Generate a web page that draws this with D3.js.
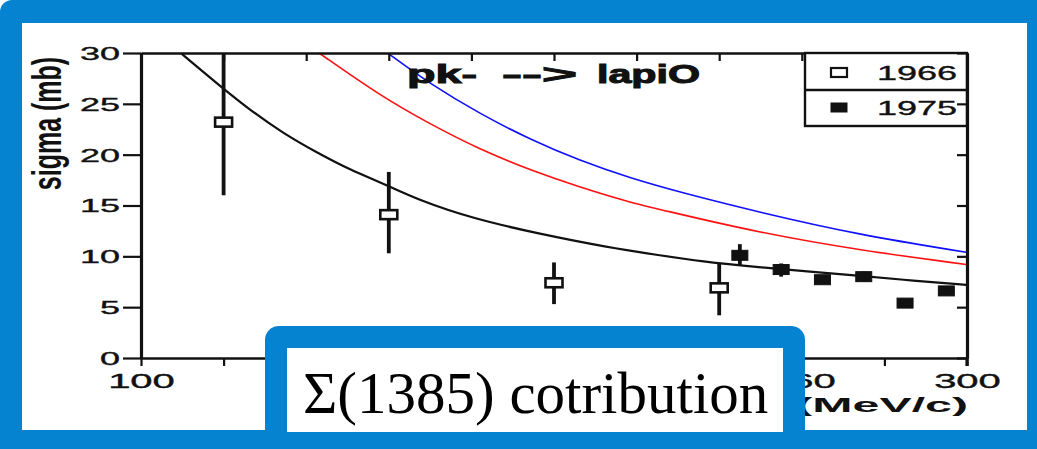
<!DOCTYPE html>
<html>
<head>
<meta charset="utf-8">
<script src="https://cdn.jsdelivr.net/npm/d3@7"></script>
<style>
  html, body { margin: 0; padding: 0; background: #ffffff; }
  svg { display: block; }
</style>
</head>
<body>
<svg id="chart" width="1037" height="449"></svg>
<script>
// ---- data -------------------------------------------------------------
// Kaon lab momentum (MeV/c) and cross section (mb)
const p1966     = [120, 160, 200, 240];
const sigma1966 = [23.2, 14.1, 7.4, 6.9];
const lo1966    = [16.0, 10.3, 5.3, 4.2];
const hi1966    = [30.0, 18.3, 9.4, 9.3];

const p1975     = [245, 255, 265, 275, 285, 295];
const sigma1975 = [10.1, 8.7, 7.7, 8.0, 5.4, 6.6];
const lo1975    = [9.1, 8.0, 7.4, 7.5, 5.2, 6.3];
const hi1975    = [11.2, 9.3, 8.0, 8.5, 5.6, 6.9];

// model curves: momentum / sigma samples
const curveBlackP = [105, 110.2, 119.9, 126.4, 134.4, 142.6, 150.6, 159.6, 166.8, 180.4, 196.6, 212.8, 225.7, 235.4, 250, 262, 274, 287, 299.8];
const curveBlackS = [31.6, 29.8, 26.5, 24.4, 22.1, 20.2, 18.5, 17.0, 15.6, 13.7, 12.2, 10.9, 10.1, 9.5, 8.9, 8.5, 8.1, 7.6, 7.2];
const curveRedP   = [138.5, 143.8, 157.9, 170.0, 182.1, 194.2, 206.3, 217.7, 225.7, 250, 274, 299.8];
const curveRedS   = [31.3, 29.8, 25.8, 23.0, 20.5, 18.5, 16.8, 15.4, 14.6, 12.3, 10.6, 9.2];
const curveBlueP  = [155, 160.3, 169.9, 182.1, 194.2, 206.3, 218.4, 230.5, 250, 274, 299.8];
const curveBlueS  = [31.5, 29.8, 27.0, 24.0, 21.5, 19.4, 17.7, 16.3, 14.3, 12.1, 10.4];

// axes
const xTickValues = [100, 120, 140, 160, 180, 200, 220, 240, 260, 280, 300];
const xTickLabels = [100, 260, 300];
const yTickValues = [0, 5, 10, 15, 20, 25, 30];

const legendLabels = ["1966", "1975"];
const titleWords = ["pk-", "-->", "lapiO"];
const xAxisTitle = "(MeV/c)";
const yAxisTitle = "sigma (mb)";
const noteText   = "Σ(1385) cotribution";

// ---- layout -----------------------------------------------------------
const FRAME = "#0583d0";
const plot = { left: 141, right: 967, top: 53, bottom: 358 };
const SX = 2.0;              // horizontal stretch of the scanned lettering
const sans = "'Liberation Sans', Arial, Helvetica, sans-serif";
const INK = "#111";

const svg = d3.select("#chart");

// slide frame
svg.append("rect").attr("x", 0).attr("y", 0).attr("width", 1060).attr("height", 480)
  .attr("rx", 12).attr("fill", FRAME);
svg.append("rect").attr("x", 22).attr("y", 23).attr("width", 1005).attr("height", 407)
  .attr("fill", "#ffffff");

const x = d3.scaleLinear().domain([100, 300]).range([plot.left, plot.right]);
const y = d3.scaleLinear().domain([0, 30]).range([plot.bottom, plot.top]);

svg.append("clipPath").attr("id", "plotClip")
  .append("rect").attr("x", plot.left).attr("y", plot.top)
  .attr("width", plot.right - plot.left).attr("height", plot.bottom - plot.top);

// ---- curves -----------------------------------------------------------
const line = d3.line().x(d => x(d[0])).y(d => y(d[1])).curve(d3.curveBasis);
const curves = [
  { p: curveBlackP, s: curveBlackS, color: INK,       w: 2.2 },
  { p: curveRedP,   s: curveRedS,   color: "#ff1010", w: 1.6 },
  { p: curveBlueP,  s: curveBlueS,  color: "#1010ff", w: 1.6 }
];
const gCurves = svg.append("g").attr("clip-path", "url(#plotClip)");
curves.forEach(c => {
  gCurves.append("path")
    .datum(c.p.map((p, i) => [p, c.s[i]]))
    .attr("d", line)
    .attr("fill", "none")
    .attr("stroke", c.color)
    .attr("stroke-width", c.w);
});

// ---- axes -------------------------------------------------------------
function styleAxis(g, w) {
  g.select(".domain").attr("stroke", INK).attr("stroke-width", w);
  g.selectAll(".tick line").attr("stroke", INK).attr("stroke-width", 2.2);
}

const gLeft = svg.append("g").attr("transform", `translate(${plot.left},0)`)
  .call(d3.axisLeft(y).tickValues(yTickValues).tickSize(18).tickSizeOuter(0));
styleAxis(gLeft, 3.2);
gLeft.selectAll(".tick text")
  .attr("x", 0).attr("dy", "0.36em")
  .attr("transform", `translate(-21,0) scale(${SX},1)`)
  .attr("text-anchor", "end")
  .style("font", `18px ${sans}`).attr("fill", INK)
  .attr("stroke", INK).attr("stroke-width", 0.35);

const gBottom = svg.append("g").attr("transform", `translate(0,${plot.bottom})`)
  .call(d3.axisBottom(x).tickValues(xTickValues).tickSize(8).tickSizeOuter(0)
    .tickFormat(d => xTickLabels.includes(d) ? d : ""));
styleAxis(gBottom, 2.6);
gBottom.selectAll(".tick text")
  .attr("y", 0).attr("dy", 0)
  .attr("transform", `translate(0,30) scale(${SX},1)`)
  .attr("text-anchor", "middle")
  .style("font", `20px ${sans}`).attr("fill", INK)
  .attr("stroke", INK).attr("stroke-width", 0.35);

const gTop = svg.append("g").attr("transform", `translate(0,${plot.top})`)
  .call(d3.axisTop(x).tickValues(xTickValues).tickSize(-8).tickSizeOuter(0).tickFormat(""));
styleAxis(gTop, 2.6);

const gRight = svg.append("g").attr("transform", `translate(${plot.right},0)`)
  .call(d3.axisRight(y).tickValues(yTickValues).tickSize(-10).tickSizeOuter(0).tickFormat(""));
styleAxis(gRight, 3.2);
gRight.append("line").attr("x1", 0).attr("x2", 0)
  .attr("y1", y(0)).attr("y2", y(0) + 8)
  .attr("stroke", INK).attr("stroke-width", 3.2);

// axis titles
svg.append("text")
  .attr("transform", `translate(${plot.right + 1},412) scale(2.3,1)`)
  .attr("text-anchor", "end")
  .style("font", `bold 21px ${sans}`).attr("fill", INK)
  .text(xAxisTitle);

svg.append("text")
  .attr("transform", `translate(61,123.5) scale(1.6,1) rotate(-90)`)
  .attr("text-anchor", "middle")
  .style("font", `bold 25px ${sans}`).attr("fill", INK)
  .text(yAxisTitle);

// reaction title, one word at a time
const titleX = [407, 502, 597];
const titleW = [70, 75, 103];
titleWords.forEach((w, i) => {
  svg.append("text")
    .attr("x", titleX[i]).attr("y", 83)
    .attr("textLength", titleW[i]).attr("lengthAdjust", "spacingAndGlyphs")
    .style("font", `bold 26px ${sans}`).attr("fill", INK)
    .attr("stroke", INK).attr("stroke-width", 1)
    .text(w);
});

// ---- data points ------------------------------------------------------
const gPts = svg.append("g").attr("clip-path", "url(#plotClip)");

function drawSeries(ps, ss, lo, hi, filled, w, h) {
  const pts = ps.map((p, i) => ({ p, s: ss[i], lo: lo[i], hi: hi[i] }));
  gPts.selectAll(null).data(pts).enter().append("line")
    .attr("x1", d => x(d.p)).attr("x2", d => x(d.p))
    .attr("y1", d => y(d.hi)).attr("y2", d => y(d.lo))
    .attr("stroke", INK).attr("stroke-width", 3.8);
  gPts.selectAll(null).data(pts).enter().append("rect")
    .attr("x", d => x(d.p) - w / 2).attr("y", d => y(d.s) - h / 2)
    .attr("width", w).attr("height", h)
    .attr("fill", filled ? INK : "#fff")
    .attr("stroke", INK).attr("stroke-width", filled ? 1 : 2.6);
}
drawSeries(p1966, sigma1966, lo1966, hi1966, false, 17, 9);
drawSeries(p1975, sigma1975, lo1975, hi1975, true, 16, 10);

// ---- legend -----------------------------------------------------------
const leg = svg.append("g");
leg.append("rect").attr("x", 805).attr("y", plot.top).attr("width", plot.right - 805).attr("height", 73)
  .attr("fill", "#fff").attr("stroke", INK).attr("stroke-width", 2.4);
leg.append("line").attr("x1", 805).attr("x2", plot.right).attr("y1", 90).attr("y2", 90)
  .attr("stroke", INK).attr("stroke-width", 2.4);
legendLabels.forEach((lab, i) => {
  const cy = i === 0 ? 72.5 : 107.5;
  leg.append("rect").attr("x", 831).attr("y", cy - 4.5).attr("width", 16).attr("height", 9)
    .attr("fill", i === 0 ? "#fff" : INK).attr("stroke", INK).attr("stroke-width", i === 0 ? 2.2 : 1);
  leg.append("text")
    .attr("transform", `translate(877,${cy + 7.5}) scale(${SX * 0.9},1)`)
    .style("font", `20px ${sans}`).attr("fill", INK)
    .attr("stroke", INK).attr("stroke-width", 0.35)
    .text(lab);
});
// right-axis ticks stay above the legend border
gRight.raise();

// ---- note box -----------------------------------------------------------
svg.append("rect").attr("x", 265).attr("y", 326).attr("width", 540).attr("height", 160)
  .attr("rx", 14).attr("fill", FRAME);
svg.append("rect").attr("x", 287).attr("y", 348).attr("width", 496).attr("height", 84)
  .attr("fill", "#fff");
svg.append("text")
  .attr("x", 303).attr("y", 413)
  .style("font", `59px 'Liberation Serif', 'Times New Roman', serif`).attr("fill", "#000")
  .text(noteText);
</script>
</body>
</html>
